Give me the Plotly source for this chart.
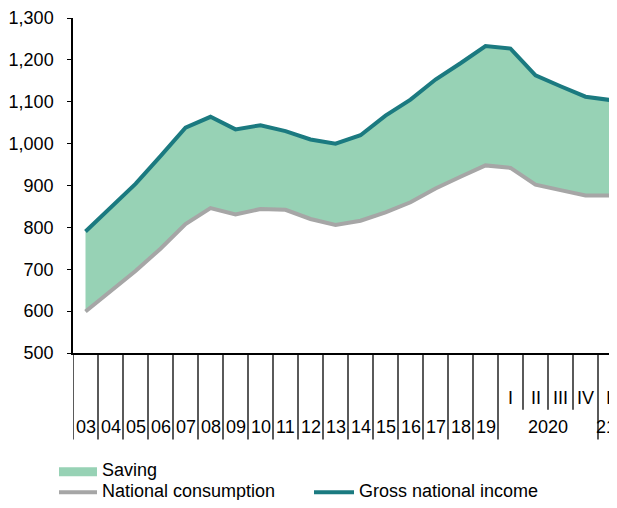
import plotly.graph_objects as go

# ---- data ----
year_labels = ["03", "04", "05", "06", "07", "08", "09", "10", "11", "12", "13",
               "14", "15", "16", "17", "18", "19"]
quarter_labels = ["I", "II", "III", "IV"]
year_2020 = "2020"
last_quarter_label = "I"
last_year_label = "21"

gross_national_income = [790, 846, 904, 970, 1038, 1064, 1034, 1044, 1030, 1010, 1000,
                         1020, 1067, 1105, 1153, 1192, 1233, 1227, 1163, 1137, 1112, 1104]
national_consumption = [599, 646, 696, 749, 808, 846, 831, 844, 842, 820, 806,
                        816, 836, 860, 893, 921, 948, 942, 902, 889, 876, 876]

legend_names = ["Saving", "National consumption", "Gross national income"]

# ---- style ----
TEAL = "#1b7a80"
GREEN = "#97d2b5"
GRAY = "#a6a6a6"
FONT = "Arial, Liberation Sans, sans-serif"
OFF = 8  # page body margin in the browser
W, H = 617 - OFF, 508 - 2 * OFF
ML, MR, MT = 73 - OFF, 0, 16 - OFF
PH = 337
MB = H - MT - PH
PW = W - ML - MR

def px_x(p):
    return (p - OFF - ML) / PW

def px_y(p):
    return (MT + PH - (p - OFF)) / PH

n = len(gross_national_income)
idx = list(range(n))

fig = go.Figure()
fig.add_trace(go.Scatter(x=idx, y=national_consumption, mode="lines",
                         line=dict(width=0, color=GRAY), showlegend=False, hoverinfo="skip"))
fig.add_trace(go.Scatter(x=idx, y=gross_national_income, mode="lines", fill="tonexty",
                         fillcolor=GREEN, line=dict(width=0, color=GREEN),
                         name=legend_names[0], showlegend=False))
fig.add_trace(go.Scatter(x=idx, y=national_consumption, mode="lines",
                         line=dict(width=4, color=GRAY), name=legend_names[1], showlegend=False))
fig.add_trace(go.Scatter(x=idx, y=gross_national_income, mode="lines",
                         line=dict(width=4, color=TEAL), name=legend_names[2], showlegend=False))

shapes = []
annotations = []
long_bottom = px_y(440)
short_bottom = px_y(410)
n_years = len(year_labels)
# category separators
for b in range(n):
    xb = b - 0.5
    is_short = n_years < b < n_years + len(quarter_labels)
    shapes.append(dict(type="line", xref="x", yref="paper", x0=xb, x1=xb, y0=0,
                       y1=short_bottom if is_short else long_bottom,
                       line=dict(color="black", width=1.3)))

ylab = px_y(427)
qlab = px_y(398)
for i, t in enumerate(year_labels):
    annotations.append(dict(x=i, y=ylab, xref="x", yref="paper", text=t, showarrow=False,
                            xanchor="center", yanchor="middle", font=dict(size=18)))
for j, t in enumerate(quarter_labels):
    annotations.append(dict(x=n_years + j, y=qlab, xref="x", yref="paper", text=t,
                            showarrow=False, xanchor="center", yanchor="middle",
                            font=dict(size=18)))
annotations.append(dict(x=n_years + (len(quarter_labels) - 1) / 2, y=ylab, xref="x",
                        yref="paper", text=year_2020, showarrow=False, xanchor="center",
                        yanchor="middle", font=dict(size=18)))
annotations.append(dict(x=n - 1, y=qlab, xref="x", yref="paper", text=last_quarter_label,
                        showarrow=False, xanchor="center", yanchor="middle", xshift=-2,
                        font=dict(size=18)))
annotations.append(dict(x=px_x(618), y=ylab, xref="paper", yref="paper", text=last_year_label,
                        showarrow=False, xanchor="right", yanchor="middle",
                        font=dict(size=18)))

# manual legend
shapes.append(dict(type="rect", xref="paper", yref="paper", x0=px_x(59), x1=px_x(97),
                   y0=px_y(468), y1=px_y(477), fillcolor=GREEN, line=dict(width=0)))
shapes.append(dict(type="line", xref="paper", yref="paper", x0=px_x(59), x1=px_x(97),
                   y0=px_y(493), y1=px_y(493), line=dict(color=GRAY, width=4)))
shapes.append(dict(type="line", xref="paper", yref="paper", x0=px_x(314), x1=px_x(354),
                   y0=px_y(493), y1=px_y(493), line=dict(color=TEAL, width=4)))
for txt, xp, yp in [(legend_names[0], 100, 471), (legend_names[1], 100, 492),
                    (legend_names[2], 357, 492)]:
    annotations.append(dict(x=px_x(xp), y=px_y(yp), xref="paper", yref="paper", text=txt,
                            showarrow=False, xanchor="left", yanchor="middle",
                            font=dict(size=18)))

fig.update_layout(
    width=W, height=H,
    margin=dict(l=ML, r=MR, t=MT, b=MB),
    paper_bgcolor="white", plot_bgcolor="white",
    font=dict(family=FONT, size=18, color="black"),
    shapes=shapes, annotations=annotations,
    showlegend=False,
    xaxis=dict(range=[-0.5, -0.5 + PW / 25], showgrid=False, zeroline=False,
               showticklabels=False, ticks="", showline=True, linecolor="black",
               linewidth=1.5, fixedrange=True),
    yaxis=dict(range=[500, 1300], dtick=100, tickformat=",", showgrid=False,
               zeroline=False, showline=True, linecolor="black", linewidth=1.5,
               ticks="outside", ticklen=4, tickwidth=1.3, tickcolor="black",
               ticklabelstandoff=10, ticklabeloverflow="allow",
               tickfont=dict(size=18), fixedrange=True),
)

fig.write_html("out.html")
